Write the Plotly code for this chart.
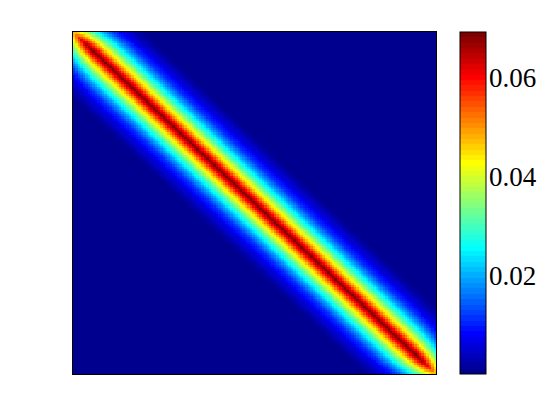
import numpy as np
import plotly.graph_objects as go

# ---- data ----
N = 150  # matrix size (cells per side)
# matrix value as a function of |row - col| (off-diagonal distance, in cells)
profile = [0.0694, 0.0650, 0.0605, 0.0560, 0.0515, 0.0475, 0.0438, 0.0405,
           0.0373, 0.0343, 0.0313, 0.0285, 0.0257, 0.0230, 0.0204, 0.0180,
           0.0158, 0.0138, 0.0120, 0.0104, 0.0090, 0.0078, 0.0066, 0.0055,
           0.0045, 0.0036, 0.0028, 0.0021, 0.0015, 0.0010, 0.0006, 0.0003]
background = 0.0002
# attenuation of cells near the matrix border (index distance from border 0,1,2,...)
edge = [0.68, 0.76, 0.83, 0.88, 0.92, 0.95, 0.97, 0.99]
cbar_tickvals = [0.01, 0.02, 0.03, 0.04, 0.05, 0.06]
cbar_labelvals = [0.02, 0.04, 0.06]
cbar_labels = ["0.02", "0.04", "0.06"]

z = np.empty((N, N))
for i in range(N):
    for j in range(N):
        d = abs(i - j)
        v = profile[d] if d < len(profile) else background
        bi = min(i, N - 1 - i)
        bj = min(j, N - 1 - j)
        fi = edge[bi] if bi < len(edge) else 1.0
        fj = edge[bj] if bj < len(edge) else 1.0
        z[i, j] = v * np.sqrt(fi * fj)

zmin = float(z.min())
zmax = float(z.max())


# ---- MATLAB-style jet(64), stepped ----
def jet(m=64):
    n = int(np.ceil(m / 4))
    u = np.r_[np.arange(1, n + 1) / n, np.ones(n - 1), np.arange(n, 0, -1) / n]
    g = int(np.ceil(n / 2)) - (1 if m % 4 == 1 else 0) + np.arange(1, len(u) + 1)
    r = g + n
    b = g - n
    R = np.zeros(m); G = np.zeros(m); B = np.zeros(m)
    for k, val in enumerate(u):
        if 1 <= r[k] <= m: R[r[k] - 1] = val
        if 1 <= g[k] <= m: G[g[k] - 1] = val
        if 1 <= b[k] <= m: B[b[k] - 1] = val
    return [f"rgb({int(round(R[k]*255))},{int(round(G[k]*255))},{int(round(B[k]*255))})" for k in range(m)]


cols = jet(64)
cscale = []
for k, c in enumerate(cols):
    cscale.append([k / 64, c])
    cscale.append([(k + 1) / 64, c])

FONT = "Liberation Serif"
# page has an 8px body margin; figure is sized to fit inside the window
W, H = 552, 412
plot_l, plot_r, plot_t, plot_b = 65, 428, 24, 366
pw = plot_r - plot_l
cb_thick = 26
cb_x = (452 - plot_l) / pw
cb_x1 = cb_x + cb_thick / pw

fig = go.Figure(go.Heatmap(
    z=z, zmin=zmin, zmax=zmax, colorscale=cscale,
    zsmooth=False,
    colorbar=dict(
        thickness=cb_thick, thicknessmode="pixels",
        len=1, lenmode="fraction", y=0.5, yanchor="middle", ypad=0,
        x=cb_x, xanchor="left", xpad=0,
        outlinecolor="black", outlinewidth=1,
        ticks="", showticklabels=False,
    ),
))

shapes = []
annotations = []
for v in cbar_tickvals:
    yy = (v - zmin) / (zmax - zmin)
    shapes.append(dict(type="line", xref="paper", yref="paper",
                       x0=cb_x, x1=cb_x + 4 / pw, y0=yy, y1=yy,
                       line=dict(color="black", width=1)))
    shapes.append(dict(type="line", xref="paper", yref="paper",
                       x0=cb_x1 - 4 / pw, x1=cb_x1, y0=yy, y1=yy,
                       line=dict(color="black", width=1)))
for v, t in zip(cbar_labelvals, cbar_labels):
    yy = (v - zmin) / (zmax - zmin)
    annotations.append(dict(text=t, xref="paper", yref="paper",
                            x=cb_x1 + 1 / pw, y=yy, xanchor="left", yanchor="middle",
                            showarrow=False,
                            font=dict(family=FONT, size=27, color="black")))

fig.update_layout(
    width=W, height=H,
    margin=dict(l=plot_l, r=W - plot_r, t=plot_t, b=H - plot_b, autoexpand=False),
    paper_bgcolor="white", plot_bgcolor="white",
    shapes=shapes, annotations=annotations,
    xaxis=dict(showticklabels=False, ticks="", showgrid=False, zeroline=False,
               showline=True, mirror=True, linecolor="black", linewidth=1),
    yaxis=dict(showticklabels=False, ticks="", showgrid=False, zeroline=False,
               showline=True, mirror=True, linecolor="black", linewidth=1,
               autorange="reversed"),
)

fig.write_html("out.html")
